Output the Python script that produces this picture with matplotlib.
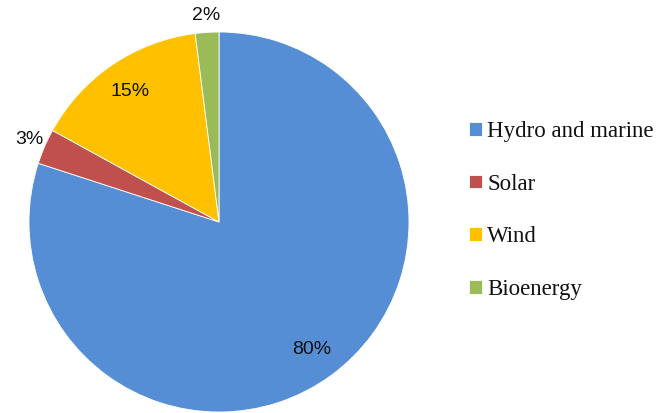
import matplotlib
matplotlib.use("Agg")
import matplotlib.pyplot as plt
import numpy as np

categories = ["Hydro and marine", "Solar", "Wind", "Bioenergy"]
values = [80, 3, 15, 2]
colors = ["#558ED5", "#C0504D", "#FFC000", "#9BBB59"]

W, H = 667, 413
fig = plt.figure(figsize=(W / 100, H / 100), dpi=100)
cx, cy, r = 219, 413 - 222, 190
ax = fig.add_axes([(cx - r) / W, (cy - r) / H, 2 * r / W, 2 * r / H])

wedges, texts, autotexts = ax.pie(
    values, colors=colors, startangle=90, counterclock=False,
    autopct="%d%%", pctdistance=0.83,
    wedgeprops=dict(linewidth=0.6, edgecolor="white"),
    textprops=dict(fontsize=14, family="Liberation Sans", color="#111111"),
    radius=1.0,
)
for v, t in zip(values, autotexts):
    if v < 5:
        x, y = t.get_position()
        t.set_position((x * 1.31, y * 1.31))
ax.set_xlim(-1, 1)
ax.set_ylim(-1, 1)
ax.set_aspect("equal")

leg = fig.legend(
    wedges, categories, loc="upper left", bbox_to_anchor=(469 / W, 1 - 121 / H),
    frameon=False, prop=dict(family="Liberation Serif", size=16.5),
    handlelength=0.55, handleheight=0.55, handletextpad=0.25, labelspacing=1.38,
    borderaxespad=0, borderpad=0,
)
for t in leg.get_texts():
    t.set_color("#111111")
fig.savefig("out.png", dpi=100)
